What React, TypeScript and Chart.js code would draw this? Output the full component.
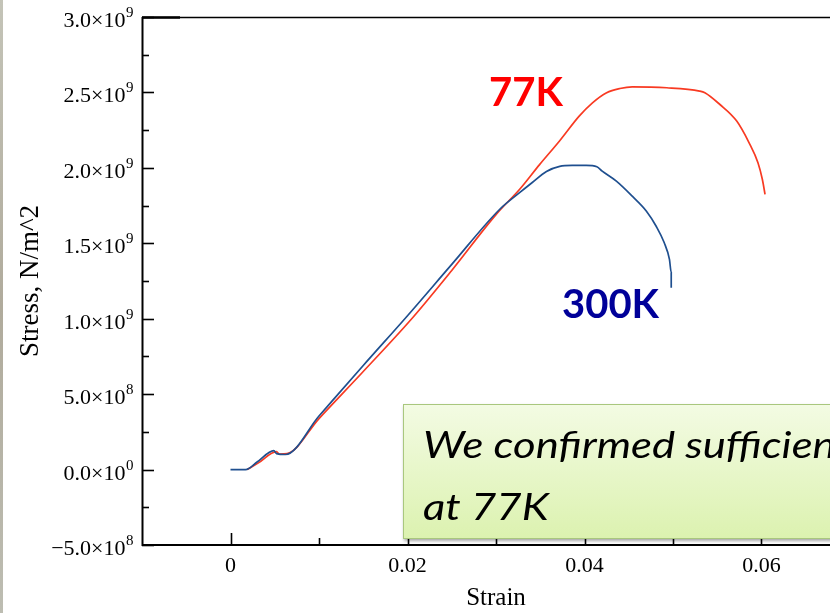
import { useEffect, useRef } from 'react';
import { Chart, registerables } from 'chart.js';

Chart.register(...registerables);

// 300K curve (blue)
const strain300K = [0, 0.0017, 0.003, 0.0049, 0.0052, 0.0062, 0.01, 0.015, 0.02, 0.025, 0.0304, 0.0327, 0.0341, 0.0357, 0.0372, 0.0386, 0.0402, 0.0414, 0.042, 0.0436, 0.0454, 0.047, 0.0481, 0.049, 0.0496, 0.0498, 0.0498];
const stress300K = [0, 0, 0.5e8, 1.26e8, 1.06e8, 1.0e8, 3.55e8, 6.9e8, 1.02e9, 1.36e9, 1.724e9, 1.837e9, 1.903e9, 1.976e9, 2.01e9, 2.016e9, 2.016e9, 2.007e9, 1.978e9, 1.912e9, 1.812e9, 1.713e9, 1.613e9, 1.505e9, 1.393e9, 1.306e9, 1.205e9];

// 77K curve (red)
const strain77K = [0.0019, 0.0032, 0.0052, 0.0055, 0.0064, 0.01, 0.015, 0.0206, 0.025, 0.03, 0.0327, 0.0349, 0.0372, 0.0394, 0.0409, 0.0425, 0.044, 0.0454, 0.0493, 0.053, 0.0536, 0.0553, 0.0572, 0.0586, 0.0596, 0.0601, 0.0604];
const stress77K = [0, 0.46e8, 1.19e8, 1.03e8, 1.06e8, 3.38e8, 6.5e8, 1.008e9, 1.32e9, 1.69e9, 1.86e9, 2.02e9, 2.18e9, 2.343e9, 2.431e9, 2.498e9, 2.526e9, 2.537e9, 2.531e9, 2.509e9, 2.498e9, 2.42e9, 2.31e9, 2.166e9, 2.034e9, 1.923e9, 1.824e9];

const xMajorTicks = [0, 0.02, 0.04, 0.06];
const xMinorTicks = [0.01, 0.03, 0.05];
const xTickLabels = ['0', '0.02', '0.04', '0.06'];
const yMajorTicks = [-5e8, 0, 5e8, 1e9, 1.5e9, 2e9, 2.5e9, 3e9];
const yMinorTicks = [-2.5e8, 2.5e8, 7.5e8, 1.25e9, 1.75e9, 2.25e9, 2.75e9];
const yTickMantissas = ['\u22125.0\u00d710', '0.0\u00d710', '5.0\u00d710', '1.0\u00d710', '1.5\u00d710', '2.0\u00d710', '2.5\u00d710', '3.0\u00d710'];
const yTickExponents = ['8', '0', '8', '9', '9', '9', '9', '9'];

const framePlugin = {
  id: 'frame',
  afterDatasetsDraw(chart: any) {
    const { ctx, chartArea } = chart;
    const { left, top, bottom, right } = chartArea;
    const xs = chart.scales.x;
    const ys = chart.scales.y;
    ctx.save();
    ctx.strokeStyle = '#000';
    ctx.lineCap = 'butt';
    // top border
    ctx.lineWidth = 1.4;
    ctx.beginPath();
    ctx.moveTo(left, top + 0.5);
    ctx.lineTo(right, top + 0.5);
    ctx.stroke();
    ctx.lineWidth = 2.4;
    ctx.beginPath();
    ctx.moveTo(left, top + 0.5);
    ctx.lineTo(left + 38, top + 0.5);
    ctx.stroke();
    // left axis
    ctx.lineWidth = 2;
    ctx.beginPath();
    ctx.moveTo(left + 0.5, top);
    ctx.lineTo(left + 0.5, bottom + 1);
    ctx.stroke();
    // bottom axis
    ctx.beginPath();
    ctx.moveTo(left, bottom);
    ctx.lineTo(right, bottom);
    ctx.stroke();
    // ticks
    ctx.lineWidth = 1.6;
    yMajorTicks.forEach((v) => {
      const y = Math.round(ys.getPixelForValue(v)) + 0.5;
      ctx.beginPath();
      ctx.moveTo(left, y);
      ctx.lineTo(left + 12, y);
      ctx.stroke();
    });
    yMinorTicks.forEach((v) => {
      const y = Math.round(ys.getPixelForValue(v)) + 0.5;
      ctx.beginPath();
      ctx.moveTo(left, y);
      ctx.lineTo(left + 7, y);
      ctx.stroke();
    });
    xMajorTicks.forEach((v) => {
      const x = Math.round(xs.getPixelForValue(v)) + 0.5;
      ctx.beginPath();
      ctx.moveTo(x, bottom);
      ctx.lineTo(x, bottom - 12);
      ctx.stroke();
    });
    xMinorTicks.forEach((v) => {
      const x = Math.round(xs.getPixelForValue(v)) + 0.5;
      ctx.beginPath();
      ctx.moveTo(x, bottom);
      ctx.lineTo(x, bottom - 7);
      ctx.stroke();
    });
    // y tick labels with superscript exponents
    ctx.fillStyle = '#000';
    ctx.textBaseline = 'alphabetic';
    ctx.textAlign = 'left';
    const mFont = "22px 'Liberation Serif'";
    const eFont = "15px 'Liberation Serif'";
    yMajorTicks.forEach((v, i) => {
      const y = ys.getPixelForValue(v);
      ctx.font = mFont;
      const mw = ctx.measureText(yTickMantissas[i]).width;
      ctx.font = eFont;
      const ew = ctx.measureText(yTickExponents[i]).width;
      const x0 = left - 9 - mw - ew;
      ctx.font = mFont;
      ctx.fillText(yTickMantissas[i], x0, y + 10);
      ctx.font = eFont;
      ctx.fillText(yTickExponents[i], x0 + mw + 0.5, y + 0);
    });
    ctx.restore();
  },
};

export default function App() {
  const canvasRef = useRef<HTMLCanvasElement | null>(null);

  useEffect(() => {
    if (!canvasRef.current) return;
    const chart = new Chart(canvasRef.current, {
      type: 'line',
      data: {
        datasets: [
          {
            label: '300K',
            data: strain300K.map((x, i) => ({ x, y: stress300K[i] })),
            borderColor: '#1f4f8f',
            borderWidth: 1.7,
            pointRadius: 0,
            cubicInterpolationMode: 'monotone',
            fill: false,
          },
          {
            label: '77K',
            data: strain77K.map((x, i) => ({ x, y: stress77K[i] })),
            borderColor: '#f83a22',
            borderWidth: 1.7,
            pointRadius: 0,
            cubicInterpolationMode: 'monotone',
            fill: false,
          },
        ],
      },
      options: {
        animation: false,
        responsive: false,
        devicePixelRatio: 1,
        layout: { padding: { top: 17, right: 10, left: 0, bottom: 0 } },
        plugins: {
          legend: { display: false },
          tooltip: { enabled: false },
        },
        scales: {
          x: {
            type: 'linear',
            min: -0.01,
            max: 0.07,
            grid: { display: false, drawTicks: false },
            border: { display: false },
            afterBuildTicks: (scale: any) => {
              scale.ticks = xMajorTicks.map((v) => ({ value: v }));
            },
            afterFit: (scale: any) => {
              scale.height = 68;
            },
            ticks: {
              padding: 8,
              color: '#000',
              font: { family: "'Liberation Serif'", size: 22 },
              callback: (_v: any, i: number) => xTickLabels[i],
            },
            title: {
              display: true,
              text: 'Strain',
              color: '#000',
              font: { family: "'Liberation Serif'", size: 25 },
              padding: { top: 0, bottom: 0 },
            },
          },
          y: {
            type: 'linear',
            min: -5e8,
            max: 3e9,
            grid: { display: false, drawTicks: false },
            border: { display: false },
            ticks: { display: false },
            afterFit: (scale: any) => {
              scale.width = 142;
            },
            title: {
              display: true,
              text: 'Stress, N/m^2',
              color: '#000',
              font: { family: "'Liberation Serif'", size: 27 },
              padding: { top: 15, bottom: 0 },
            },
          },
        },
      },
      plugins: [framePlugin],
    });
    return () => chart.destroy();
  }, []);

  return (
    <div style={{ position: 'fixed', left: 0, top: 0, width: 830, height: 613, overflow: 'hidden', background: '#fff' }}>
      <canvas ref={canvasRef} width={860} height={613} style={{ position: 'absolute', left: 0, top: 0, width: 860, height: 613 }} />
      <div style={{ position: 'absolute', left: 0, top: 0, width: 3, height: 613, background: 'linear-gradient(to bottom, #c4c4b8, #b0ab9c 50%, #bdbdb2)' }} />
      <div style={{ position: 'absolute', left: 489, top: 71, color: '#ff0000', font: "bold 40px Lato, 'Open Sans', sans-serif", lineHeight: '40px', whiteSpace: 'nowrap' }}>77K</div>
      <div style={{ position: 'absolute', left: 562, top: 283, color: '#000099', font: "bold 40px Lato, 'Open Sans', sans-serif", lineHeight: '40px', whiteSpace: 'nowrap' }}>300K</div>
      <div
        style={{
          position: 'absolute',
          left: 403,
          top: 404,
          width: 520,
          height: 135,
          boxSizing: 'border-box',
          border: '1.5px solid #a9c77e',
          background: 'linear-gradient(to bottom, #f3fbe3, #dcf2b0)',
          boxShadow: '1px 2px 3px rgba(0,0,0,0.35)',
          overflow: 'hidden',
        }}
      >
        <div
          style={{
            position: 'absolute',
            left: 19,
            top: 8,
            font: "italic 37px Lato, 'Open Sans', sans-serif",
            lineHeight: '62px',
            color: '#000',
            whiteSpace: 'nowrap',
            transform: 'scaleX(1.18)',
            transformOrigin: 'left top',
          }}
        >
          We confirmed sufficient strength
          <br />
          at 77K
        </div>
      </div>
    </div>
  );
}
